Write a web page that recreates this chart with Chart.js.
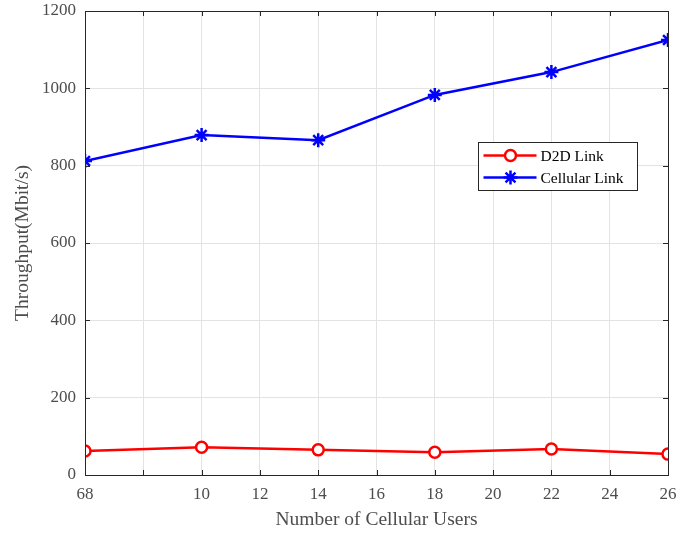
<!DOCTYPE html>
<html><head><meta charset="utf-8">
<script src="https://cdn.jsdelivr.net/npm/chart.js@4/dist/chart.umd.min.js"></script>
<style>html,body{margin:0;padding:0;background:#fff;}#wrap{width:678px;height:533px;}</style>
</head><body><div id="wrap"><canvas id="c" width="678" height="533"></canvas></div>
<script>
const users = [6, 10, 14, 18, 22, 26];
const d2dLink = [62, 72, 65, 59, 67, 54];
const cellularLink = [812, 879, 866, 983, 1042, 1125];
const xTickValues = [6, 8, 10, 12, 14, 16, 18, 20, 22, 24, 26];
const xTickLabels = ['68', '', '10', '12', '14', '16', '18', '20', '22', '24', '26'];
const yTickValues = [0, 200, 400, 600, 800, 1000, 1200];

const FONT = "'Liberation Serif','Times New Roman',serif";
const TICK_COLOR = '#4d4d4d';
const AXIS_COLOR = '#262626';

const boxPlugin = {
  id: 'boxPlugin',
  afterDatasetsDraw(chart) {
    const ctx = chart.ctx, a = chart.chartArea;
    const xs = chart.scales.x, ys = chart.scales.y;
    ctx.save();
    ctx.strokeStyle = AXIS_COLOR;
    ctx.lineWidth = 1;
    const L = 5;
    ctx.beginPath();
    xTickValues.forEach(v => {
      const px = Math.round(xs.getPixelForValue(v)) + 0.5;
      ctx.moveTo(px, a.bottom); ctx.lineTo(px, a.bottom - L);
      ctx.moveTo(px, a.top); ctx.lineTo(px, a.top + L);
    });
    yTickValues.forEach(v => {
      const py = Math.round(ys.getPixelForValue(v)) + 0.5;
      ctx.moveTo(a.left, py); ctx.lineTo(a.left + L, py);
      ctx.moveTo(a.right, py); ctx.lineTo(a.right - L, py);
    });
    ctx.stroke();
    ctx.beginPath();
    ctx.rect(Math.round(a.left) + 0.5, Math.round(a.top) + 0.5, Math.round(a.right - a.left), Math.round(a.bottom - a.top));
    ctx.stroke();
    ctx.restore();
  },
  afterDraw(chart) {
    const ctx = chart.ctx;
    const bx = 478.5, by = 142.5, bw = 159, bh = 48;
    ctx.save();
    ctx.fillStyle = '#fff';
    ctx.fillRect(bx, by, bw, bh);
    ctx.strokeStyle = '#262626';
    ctx.lineWidth = 1;
    ctx.strokeRect(bx, by, bw, bh);
    chart.data.datasets.forEach((ds, i) => {
      const y = by + 13 + i * 22;
      ctx.strokeStyle = ds.borderColor;
      ctx.lineWidth = ds.borderWidth;
      ctx.beginPath(); ctx.moveTo(bx + 5, y); ctx.lineTo(bx + 58, y); ctx.stroke();
      ctx.fillStyle = ds.pointBackgroundColor;
      ctx.strokeStyle = ds.borderColor;
      ctx.lineWidth = ds.pointBorderWidth;
      if (ds.pointStyle === 'circle') {
        ctx.beginPath();
        ctx.arc(bx + 32, y, ds.pointRadius, 0, Math.PI * 2);
        ctx.fill(); ctx.stroke();
      } else {
        Chart.helpers.drawPoint(ctx, {pointStyle: ds.pointStyle, radius: ds.pointRadius, borderWidth: ds.pointBorderWidth, rotation: 0}, bx + 32, y);
      }
      ctx.fillStyle = '#000';
      ctx.font = '15.5px ' + FONT;
      ctx.textBaseline = 'middle';
      ctx.textAlign = 'left';
      ctx.fillText(ds.label, bx + 62, y + 1);
    });
    ctx.restore();
  }
};

new Chart(document.getElementById('c'), {
  type: 'line',
  data: {
    datasets: [
      {
        label: 'D2D Link',
        data: users.map((u, i) => ({x: u, y: d2dLink[i]})),
        borderColor: '#ff0000', backgroundColor: '#ff0000',
        pointBackgroundColor: '#ffffff', pointBorderColor: '#ff0000',
        pointStyle: 'circle', pointRadius: 5.5, pointBorderWidth: 2.5,
        borderWidth: 2.5, tension: 0, fill: false
      },
      {
        label: 'Cellular Link',
        data: users.map((u, i) => ({x: u, y: cellularLink[i]})),
        borderColor: '#0000ff', backgroundColor: '#0000ff',
        pointBackgroundColor: '#0000ff', pointBorderColor: '#0000ff',
        pointStyle: 'star', pointRadius: 7, pointBorderWidth: 2.5,
        borderWidth: 2.5, tension: 0, fill: false
      }
    ]
  },
  options: {
    responsive: false, animation: false, devicePixelRatio: 1,
    layout: {padding: {left: 0, right: 10, top: 11, bottom: 0}},
    plugins: {legend: {display: false}, tooltip: {enabled: false}},
    scales: {
      x: {
        type: 'linear', min: 6, max: 26,
        afterBuildTicks: s => { s.ticks = xTickValues.map(v => ({value: v})); },
        afterFit: s => { s.height = 58; s.paddingLeft = 0; s.paddingRight = 0; },
        grid: {color: '#e3e3e3', drawTicks: false},
        border: {color: AXIS_COLOR, width: 1},
        ticks: {
          padding: 9, color: TICK_COLOR, font: {family: FONT, size: 17}, maxRotation: 0, autoSkip: false,
          callback: (v) => xTickLabels[xTickValues.indexOf(v)]
        },
        title: {display: true, text: 'Number of Cellular Users', color: TICK_COLOR, font: {family: FONT, size: 19.5}, padding: {top: 4, bottom: 1}}
      },
      y: {
        type: 'linear', min: 0, max: 1200,
        afterBuildTicks: s => { s.ticks = yTickValues.map(v => ({value: v})); },
        afterFit: s => { s.width = 85; s.paddingTop = 0; s.paddingBottom = 0; },
        grid: {color: '#e3e3e3', drawTicks: false},
        border: {color: AXIS_COLOR, width: 1},
        ticks: {padding: 9, color: TICK_COLOR, font: {family: FONT, size: 17}, callback: v => String(v)},
        title: {display: true, text: 'Throughput(Mbit/s)', color: TICK_COLOR, font: {family: FONT, size: 19.5}, padding: {top: 11, bottom: 0}}
      }
    }
  },
  plugins: [boxPlugin]
});
</script></body></html>
